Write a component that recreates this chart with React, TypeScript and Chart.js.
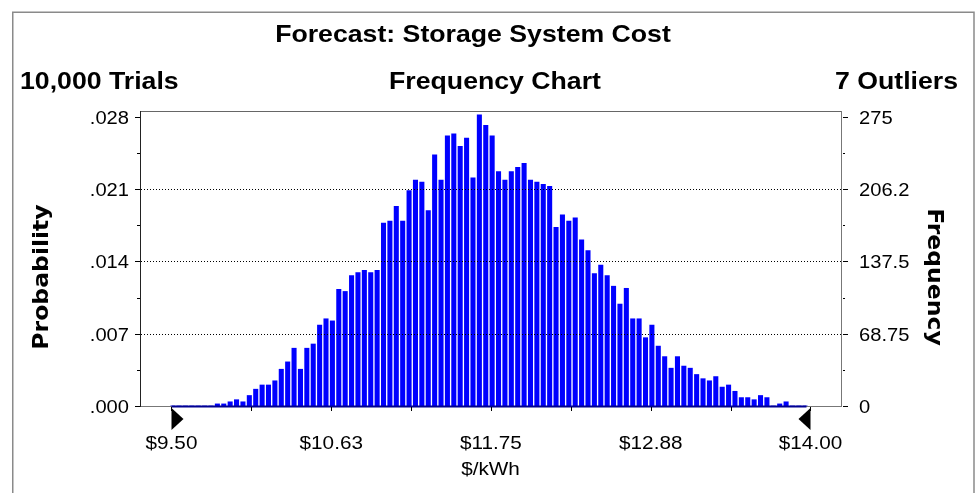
import React, { useEffect, useRef } from "react";
import { Chart, registerables } from "chart.js";

Chart.register(...registerables);

// ---- data ----
const BIN_START = 9.5;
const BIN_WIDTH = 0.045;
const COUNTS = [
  0, 0, 0, 0, 0, 0, 0, 2, 2, 4,
  6, 4, 10, 16, 20, 20, 24, 35, 42, 55,
  35, 55, 59, 77, 83, 81, 111, 109, 124, 127,
  129, 127, 129, 174, 176, 190, 176, 205, 215, 213,
  186, 239, 215, 257, 259, 247, 255, 217, 277, 267,
  257, 223, 215, 223, 227, 231, 215, 213, 211, 209,
  170, 182, 176, 179, 158, 148, 126, 134, 124, 114,
  97, 112, 83, 83, 65, 77, 57, 47, 36, 47,
  38, 36, 30, 26, 24, 28, 18, 20, 14, 8,
  8, 6, 10, 8, 0, 2, 4, 0, 0, 0,
];
const TRIALS = 10000;
const FREQ_TICKS = [0, 68.75, 137.5, 206.25, 275];
const FREQ_LABELS = ["0", "68.75", "137.5", "206.2", "275"];
const PROB_LABELS = [".000", ".007", ".014", ".021", ".028"];
const X_TICKS = [9.5, 10.625, 11.75, 12.875, 14];
const X_LABELS = ["$9.50", "$10.63", "$11.75", "$12.88", "$14.00"];
const X_MINOR_TICKS = [9.5, 10.0625, 10.625, 11.1875, 11.75, 12.3125, 12.875, 13.4375, 14];
const X_MIN = 9.2782;
const X_MAX = 14.2148;
const Y_MAX = 280.7;

const TITLE = "Forecast: Storage System Cost";
const SUB_LEFT = "10,000 Trials";
const SUB_CENTER = "Frequency Chart";
const SUB_RIGHT = "7 Outliers";
const X_TITLE = "$/kWh";
const Y_LEFT_TITLE = "Probability";
const Y_RIGHT_TITLE = "Frequency";

const SX = 1.15;
const SANS = "'Liberation Sans', Arial, sans-serif";

function txt(ctx: CanvasRenderingContext2D, text: string, x: number, y: number, font: string,
  align: CanvasTextAlign, baseline: CanvasTextBaseline, sx = SX) {
  ctx.save();
  ctx.font = font;
  ctx.textAlign = align;
  ctx.textBaseline = baseline;
  ctx.fillStyle = "#000";
  ctx.translate(x, y);
  ctx.scale(sx, 1);
  ctx.fillText(text, 0, 0);
  ctx.restore();
}

function line(ctx: CanvasRenderingContext2D, x1: number, y1: number, x2: number, y2: number, color: string, w = 1) {
  ctx.beginPath();
  ctx.strokeStyle = color;
  ctx.lineWidth = w;
  ctx.moveTo(x1, y1);
  ctx.lineTo(x2, y2);
  ctx.stroke();
}

const decorPlugin = {
  id: "decor",
  afterDatasetsDraw(chart: any) {
    const { ctx, chartArea: a, scales } = chart;
    const xs = scales.x;
    const ys = scales.y;
    ctx.save();

    // outer frame
    ctx.strokeStyle = "#8a8a8a";
    ctx.lineWidth = 1.5;
    ctx.strokeRect(12.75, 12.25, 961.25, 520);

    // gridlines (dotted)
    ctx.save();
    ctx.setLineDash([1, 2]);
    for (let i = 1; i < FREQ_TICKS.length - 1; i++) {
      const y = Math.round(ys.getPixelForValue(FREQ_TICKS[i])) + 0.5;
      line(ctx, a.left + 1, y, a.right, y, "#000", 1);
    }
    ctx.restore();

    // plot frame
    line(ctx, a.left, a.top + 0.5, a.right + 1, a.top + 0.5, "#666");
    line(ctx, a.right + 0.5, a.top, a.right + 0.5, a.bottom + 1, "#777");
    line(ctx, a.left, a.bottom + 0.5, a.right + 1, a.bottom + 0.5, "#777");
    line(ctx, a.left + 0.5, a.top, a.left + 0.5, a.bottom + 1, "#222");
    // navy baseline under the bars
    line(ctx, xs.getPixelForValue(X_TICKS[0]), a.bottom + 0.5,
      xs.getPixelForValue(X_TICKS[X_TICKS.length - 1]) - 4, a.bottom + 0.5, "#000090", 2);

    // y ticks (left + right)
    for (let i = 0; i < FREQ_TICKS.length; i++) {
      const y = Math.round(ys.getPixelForValue(FREQ_TICKS[i])) + 0.5;
      line(ctx, a.left - 5, y, a.left, y, "#000");
      line(ctx, a.right + 2, y, a.right + 7, y, "#000");
      if (i < FREQ_TICKS.length - 1) {
        const ym = Math.round(ys.getPixelForValue((FREQ_TICKS[i] + FREQ_TICKS[i + 1]) / 2)) + 0.5;
        line(ctx, a.left - 3, ym, a.left, ym, "#000");
        line(ctx, a.right + 2, ym, a.right + 4, ym, "#000");
      }
      txt(ctx, PROB_LABELS[i], a.left - 11, y + 2, `17.5px ${SANS}`, "right", "middle");
      txt(ctx, FREQ_LABELS[i], a.right + 18, y + 2, `17.5px ${SANS}`, "left", "middle");
    }

    // x ticks
    for (const v of X_MINOR_TICKS) {
      const x = Math.round(xs.getPixelForValue(v)) + 0.5;
      line(ctx, x, a.bottom + 1, x, a.bottom + 5, "#000");
    }
    for (let i = 0; i < X_TICKS.length; i++) {
      txt(ctx, X_LABELS[i], xs.getPixelForValue(X_TICKS[i]), 444, `18px ${SANS}`, "center", "middle");
    }
    txt(ctx, X_TITLE, (a.left + a.right) / 2, 470, `18px ${SANS}`, "center", "middle");

    // range markers
    ctx.fillStyle = "#000";
    const xl = xs.getPixelForValue(X_TICKS[0]);
    ctx.beginPath();
    ctx.moveTo(xl, a.bottom + 2);
    ctx.lineTo(xl + 12, a.bottom + 13);
    ctx.lineTo(xl, a.bottom + 24);
    ctx.closePath();
    ctx.fill();
    const xr = xs.getPixelForValue(X_TICKS[X_TICKS.length - 1]);
    ctx.beginPath();
    ctx.moveTo(xr, a.bottom + 2);
    ctx.lineTo(xr - 12, a.bottom + 13);
    ctx.lineTo(xr, a.bottom + 24);
    ctx.closePath();
    ctx.fill();

    // titles
    txt(ctx, TITLE, 473, 42, `bold 23.2px ${SANS}`, "center", "alphabetic");
    txt(ctx, SUB_LEFT, 20, 89, `bold 23.2px ${SANS}`, "left", "alphabetic");
    txt(ctx, SUB_CENTER, 495, 89, `bold 23.2px ${SANS}`, "center", "alphabetic");
    txt(ctx, SUB_RIGHT, 958, 89, `bold 23.2px ${SANS}`, "right", "alphabetic");

    // axis titles (rotated)
    ctx.save();
    ctx.font = "bold 16px 'DejaVu Sans', sans-serif";
    ctx.fillStyle = "#000";
    ctx.textAlign = "center";
    ctx.textBaseline = "alphabetic";
    ctx.translate(48, 277);
    ctx.rotate(-Math.PI / 2);
    ctx.scale(1.47, 1.28);
    ctx.fillText(Y_LEFT_TITLE, 0, 0);
    ctx.restore();

    ctx.save();
    ctx.font = "bold 16px 'DejaVu Sans', sans-serif";
    ctx.fillStyle = "#000";
    ctx.textAlign = "center";
    ctx.textBaseline = "alphabetic";
    ctx.translate(928, 277);
    ctx.rotate(Math.PI / 2);
    ctx.scale(1.47, 1.28);
    ctx.fillText(Y_RIGHT_TITLE, 0, 0);
    ctx.restore();

    ctx.restore();
  },
};

export default function App() {
  const ref = useRef<HTMLCanvasElement | null>(null);
  useEffect(() => {
    if (!ref.current) return;
    const points = COUNTS.map((c, i) => ({ x: BIN_START + BIN_WIDTH * i + BIN_WIDTH * 0.18, y: c }));
    const chart = new Chart(ref.current, {
      type: "bar",
      data: {
        datasets: [
          {
            data: points as any,
            backgroundColor: "#0000ff",
            borderWidth: 0,
            barThickness: 4.4,
            grouped: false,
          } as any,
        ],
      },
      options: {
        animation: false,
        responsive: false,
        events: [],
        layout: { padding: { left: 140, top: 111, right: 138, bottom: 87 } },
        plugins: { legend: { display: false }, tooltip: { enabled: false } },
        scales: {
          x: { type: "linear", min: X_MIN, max: X_MAX, offset: false, display: false },
          y: { type: "linear", min: 0, max: Y_MAX, display: false },
        },
      },
      plugins: [decorPlugin],
    });
    return () => chart.destroy();
  }, []);
  return (
    <div style={{ position: "absolute", left: 0, top: 0, width: 979, height: 493, background: "#fff" }}>
      <canvas ref={ref} width={979} height={493} style={{ display: "block" }} />
    </div>
  );
}
